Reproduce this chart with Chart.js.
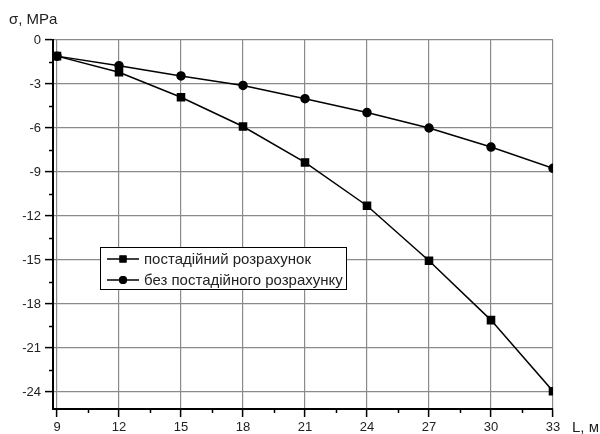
<!DOCTYPE html>
<html>
<head>
<meta charset="utf-8">
<script src="https://cdn.jsdelivr.net/npm/chart.js@4/dist/chart.umd.min.js"></script>
<style>
  html, body { margin: 0; padding: 0; background: #fff; }
  #wrap { width: 600px; height: 434px; }
</style>
</head>
<body>
<div id="wrap"><canvas id="myChart" width="600" height="434"></canvas></div>
<script>
// span lengths, m
const lengths = [9, 12, 15, 18, 21, 24, 27, 30, 33];
// stress, MPa
const staged = [-1.1, -2.2, -3.9, -5.9, -8.35, -11.3, -15.05, -19.1, -23.95];
const notStaged = [-1.1, -1.75, -2.45, -3.1, -4.0, -4.95, -6.0, -7.3, -8.75];
const xTicks = [9, 12, 15, 18, 21, 24, 27, 30, 33];
const yTicks = [0, -3, -6, -9, -12, -15, -18, -21, -24];

Chart.defaults.font.family = '"Liberation Sans", Arial, sans-serif';
Chart.defaults.font.size = 13;
Chart.defaults.color = '#222';

// minor ticks between the labelled ones
const minorTicks = {
    id: 'minorTicks',
    afterDraw(chart) {
        const ctx = chart.ctx;
        const xs = chart.scales.x, ys = chart.scales.y;
        const area = chart.chartArea;
        ctx.save();
        ctx.strokeStyle = '#000';
        ctx.lineWidth = 1.5;
        ctx.beginPath();
        for (let i = 0; i < xTicks.length - 1; i++) {
            const px = Math.round(xs.getPixelForValue((xTicks[i] + xTicks[i + 1]) / 2)) + 0.5;
            ctx.moveTo(px, area.bottom);
            ctx.lineTo(px, area.bottom + 4);
        }
        for (let i = 0; i < yTicks.length - 1; i++) {
            const py = Math.round(ys.getPixelForValue((yTicks[i] + yTicks[i + 1]) / 2)) + 0.5;
            ctx.moveTo(area.left - 4, py);
            ctx.lineTo(area.left, py);
        }
        ctx.stroke();
        ctx.restore();
    }
};

// axis captions + legend box inside the plot
const extras = {
    id: 'extras',
    afterDraw(chart) {
        const ctx = chart.ctx;
        ctx.save();
        ctx.fillStyle = '#222';
        ctx.font = '15px "Liberation Sans", Arial, sans-serif';
        ctx.textBaseline = 'middle';
        ctx.textAlign = 'left';
        ctx.fillText('σ, MPa', 9, 20);
        ctx.fillText('L, м', 572, 428);

        // legend
        ctx.fillStyle = '#fff';
        ctx.fillRect(100, 247, 247, 43);
        ctx.strokeStyle = '#000';
        ctx.lineWidth = 1;
        ctx.strokeRect(100.5, 247.5, 246, 42);
        ctx.font = '15px "Liberation Sans", Arial, sans-serif';
        chart.data.datasets.forEach((ds, i) => {
            const y = 259 + i * 21;
            ctx.strokeStyle = '#000';
            ctx.lineWidth = 1.5;
            ctx.beginPath();
            ctx.moveTo(107, y);
            ctx.lineTo(139, y);
            ctx.stroke();
            ctx.fillStyle = '#000';
            Chart.helpers.drawPoint(ctx, {pointStyle: ds.pointStyle, radius: ds.pointRadius, borderWidth: 0}, 123, y);
            ctx.fill();
            ctx.fillStyle = '#222';
            ctx.fillText(ds.label, 144, y + 1);
        });
        ctx.restore();
    }
};

const ctx = document.getElementById('myChart').getContext('2d');
const myChart = new Chart(ctx, {
    type: 'line',
    data: {
        labels: lengths,
        datasets: [{
            label: 'постадійний розрахунок',
            data: lengths.map((x, i) => ({x: x, y: staged[i]})),
            borderColor: '#000',
            backgroundColor: '#000',
            borderWidth: 1.5,
            pointStyle: 'rect',
            pointRadius: 5,
            pointHoverRadius: 5,
            tension: 0
        }, {
            label: 'без постадійного розрахунку',
            data: lengths.map((x, i) => ({x: x, y: notStaged[i]})),
            borderColor: '#000',
            backgroundColor: '#000',
            borderWidth: 1.5,
            pointStyle: 'circle',
            pointRadius: 4,
            pointHoverRadius: 4,
            tension: 0
        }]
    },
    options: {
        responsive: false,
        animation: false,
        layout: { padding: { top: 40, right: 47, left: 0, bottom: 0 } },
        plugins: {
            legend: { display: false },
            tooltip: { enabled: false }
        },
        scales: {
            x: {
                type: 'linear',
                min: 8.806,
                max: 33,
                afterBuildTicks: s => { s.ticks = xTicks.map(v => ({value: v})); },
                afterFit: s => { s.height = 25; },
                grid: { color: '#8a8a8a', lineWidth: 1.2, tickColor: '#000', tickLength: 8, tickWidth: 1.5 },
                border: { color: '#000', width: 2 },
                ticks: { padding: 3, maxRotation: 0 }
            },
            y: {
                min: -25.16,
                max: 0,
                afterBuildTicks: s => { s.ticks = yTicks.map(v => ({value: v})); },
                afterFit: s => { s.width = 53; },
                grid: { color: '#8a8a8a', lineWidth: 1.2, tickColor: '#000', tickLength: 8, tickWidth: 1.5 },
                border: { color: '#000', width: 2 },
                ticks: { padding: 4 }
            }
        }
    },
    plugins: [minorTicks, extras]
});
</script>
</body>
</html>
